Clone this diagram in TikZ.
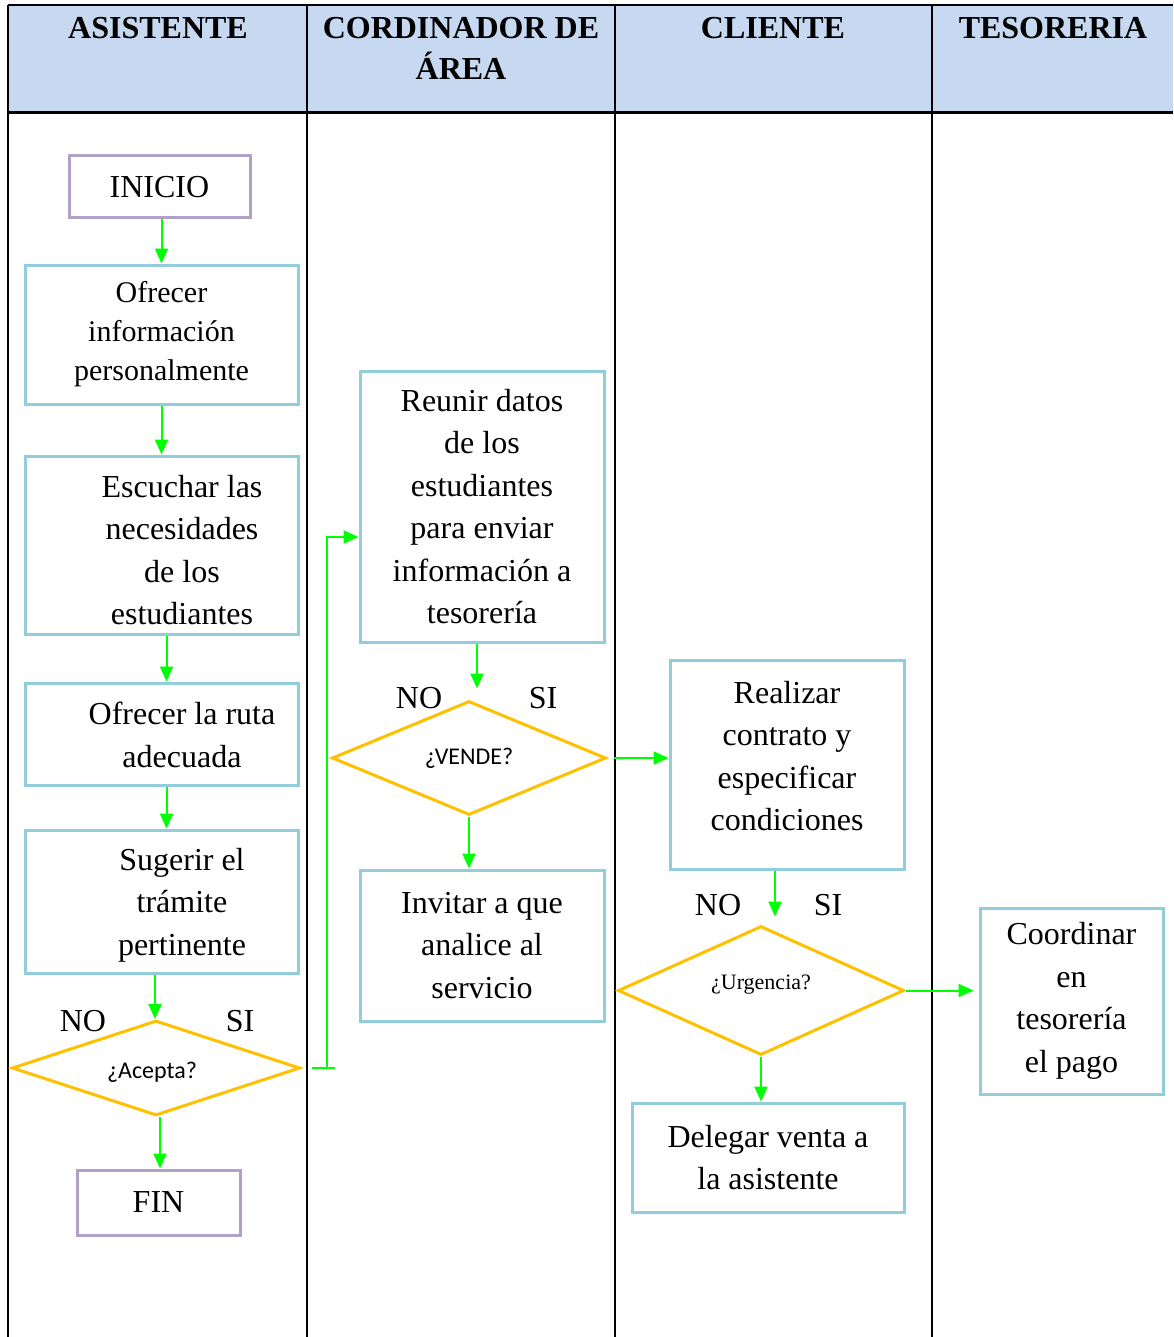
\documentclass[tikz,border=0pt]{standalone}
\usepackage{fontspec}
\setmainfont{Liberation Serif}
\newfontfamily\calibri{Carlito}
\usetikzlibrary{shapes.geometric,arrows.meta,positioning}
\definecolor{cabecera}{HTML}{C6D9F0}
\definecolor{celeste}{HTML}{92CDDC}
\definecolor{lila}{HTML}{B2A1C7}
\definecolor{ambar}{HTML}{FFC000}
\definecolor{verde}{HTML}{00FF00}
\tikzset{
	caja/.style={draw=celeste, line width=1.5pt, inner sep=0pt, align=center},
	terminal/.style={draw=lila, line width=1.5pt, inner sep=0pt},
	decision/.style={diamond, aspect=3, draw=ambar, line width=1.5pt, inner sep=0pt},
	titulo/.style={anchor=north, inner sep=0pt, align=center, font=\bfseries\fontsize{16}{20.5}\selectfont},
	etiq/.style={inner sep=0pt},
	flecha/.style={->, draw=verde, line width=1pt},
	linea/.style={draw=verde, line width=1pt}
}
\begin{document}
\begin{tikzpicture}[x=0.5pt, y=-0.5pt, font=\fontsize{16}{21.25}\selectfont, >={Triangle[length=7.5pt,width=6.5pt]}]
	\useasboundingbox (0,0) rectangle (1173,1337);
	%	Carriles
	\fill[cabecera] (8,5) rectangle (1173,113);
	\draw[line width=1pt]
	(8,5)--(1173,5)
	(8,5)--(8,1337)
	(307,5)--(307,1337)
	(615,5)--(615,1337)
	(932,5)--(932,1337)
	;
	\draw[line width=1.5pt] (8,113)--(1173,113);
	\node[titulo] (t1) at (158,17) {ASISTENTE};
	\node[titulo] (t2) at (461,17) {CORDINADOR DE\\ÁREA};
	\node[titulo] (t3) at (773,17) {CLIENTE};
	\node[titulo] (t4) at (1053,17) {TESORERIA};
	%	Asistente
	\node[terminal, minimum width=90.5pt, minimum height=31pt] (inicio) at (159.5,187) {INICIO};
	\node[caja, minimum width=136.5pt, minimum height=69.5pt, font=\fontsize{15}{19.5}\selectfont] (ofrecer) at (161.5,334.5) {Ofrecer\\información\\personalmente};
	\node[caja, minimum width=136.5pt, minimum height=89pt] (escuchar) at (161.5,545) {};
	\node[align=center, inner sep=0pt] (escuchar-txt) at (182,550) {Escuchar las\\necesidades\\de los\\estudiantes};
	\node[caja, minimum width=136.5pt, minimum height=51pt] (ruta) at (161.5,734) {};
	\node[align=center, inner sep=0pt] (ruta-txt) at (182,735) {Ofrecer la ruta\\adecuada};
	\node[caja, minimum width=136.5pt, minimum height=71.5pt] (sugerir) at (161.5,901.5) {};
	\node[align=center, inner sep=0pt] (sugerir-txt) at (182,905) {Sugerir el\\trámite\\pertinente};
	\node[decision, minimum width=144pt, minimum height=47.5pt, font=\calibri\fontsize{12}{14}\selectfont] (acepta) at (156,1068) {};
	\node[inner sep=0pt, font=\calibri\fontsize{12}{14}\selectfont] (acepta-txt) at (152,1072) {¿Acepta?};
	\node[terminal, minimum width=81.5pt, minimum height=32.5pt] (fin) at (158.5,1202.5) {FIN};
	\node[etiq] (acepta-no) at (83,1021) {NO};
	\node[etiq] (acepta-si) at (240,1021) {SI};
	%	Coordinador
	\node[caja, minimum width=122pt, minimum height=135.5pt] (reunir) at (482,506.5) {Reunir datos\\de los\\estudiantes\\para enviar\\información a\\tesorería};
	\node[decision, minimum width=137pt, minimum height=57pt, font=\calibri\fontsize{12}{14}\selectfont] (vende) at (469,758) {¿VENDE?};
	\node[caja, minimum width=122pt, minimum height=75.5pt] (invitar) at (482,945.5) {Invitar a que\\analice al\\servicio};
	\node[etiq] (vende-no) at (419,698) {NO};
	\node[etiq] (vende-si) at (543,698) {SI};
	%	Cliente
	\node[caja, minimum width=117pt, minimum height=104.5pt] (realizar) at (787,764.5) {};
	\node[align=center, inner sep=0pt] (realizar-txt) at (787,756) {Realizar\\contrato y\\especificar\\condiciones};
	\node[decision, minimum width=143pt, minimum height=64.5pt] (urgencia) at (761,990.5) {};
	\node[inner sep=0pt, font=\fontsize{11}{13}\selectfont] (urgencia-txt) at (761,985) {¿Urgencia?};
	\node[caja, minimum width=136pt, minimum height=54.5pt] (delegar) at (768,1157.5) {Delegar venta a\\la asistente};
	\node[etiq] (urgencia-no) at (718,905) {NO};
	\node[etiq] (urgencia-si) at (828,905) {SI};
	%	Tesoreria
	\node[caja, minimum width=91.5pt, minimum height=93pt] (coordinar) at (1071.5,1001) {Coordinar\\en\\tesorería\\el pago};
	%	Flechas
	\coordinate (e1) at ([xshift=2.5pt]escuchar.south);
	\coordinate (r1) at ([xshift=2.5pt]ruta.south);
	\coordinate (s1) at ([xshift=-3.25pt]sugerir.south);
	\coordinate (a1) at ([xshift=2pt]acepta.south);
	\coordinate (a2) at ([xshift=12.5pt]acepta.east);
	\coordinate (u1) at ([xshift=-2.5pt]reunir.south);
	\coordinate (c1) at ([xshift=-6pt]realizar.south);
	\draw[flecha] (inicio.south -| ofrecer.north)--(ofrecer.north);
	\draw[flecha] (ofrecer)--(escuchar);
	\draw[flecha] (e1)--(e1 |- ruta.north);
	\draw[flecha] (r1)--(r1 |- sugerir.north);
	\draw[flecha] (s1)--(s1 |- acepta.north);
	\draw[flecha] (a1)--(a1 |- fin.north);
	\draw[linea] ([xshift=5pt]acepta.east)--([xshift=16.5pt]acepta.east);
	\draw[flecha] (a2) |- ([yshift=-15.25pt]reunir.west);
	\draw[flecha, shorten >=5.5pt] (u1)--(u1 |- vende.north);
	\draw[flecha] (vende.south)--(vende.south |- invitar.north);
	\draw[flecha, shorten <=3pt] (vende.east)--(vende.east -| realizar.west);
	\draw[flecha, shorten >=4pt] (c1)--(c1 |- urgencia.north);
	\draw[flecha] (urgencia.south)--(urgencia.south |- delegar.north);
	\draw[flecha, shorten >=2.5pt] (urgencia.east)--(urgencia.east -| coordinar.west);
\end{tikzpicture}
\end{document}
